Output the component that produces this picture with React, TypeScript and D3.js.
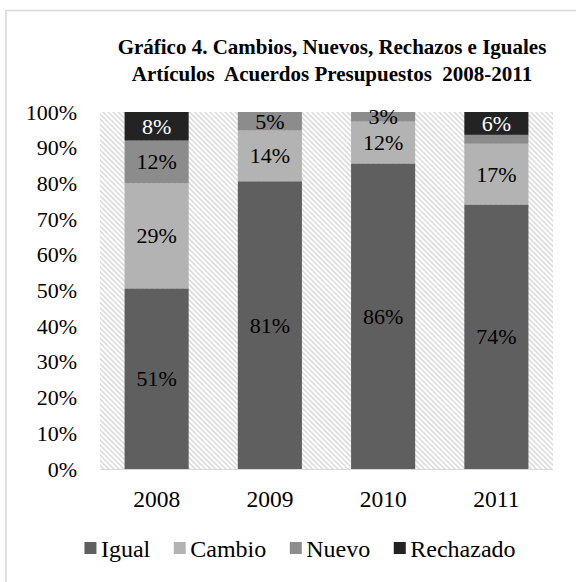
import React, { useEffect, useRef } from "react";
import * as d3 from "d3";

const years = ["2008", "2009", "2010", "2011"];
const seriesNames = ["Igual", "Cambio", "Nuevo", "Rechazado"];
const igual = [50.6, 80.6, 85.6, 74.1];
const cambio = [29.4, 14.2, 11.7, 17.0];
const nuevo = [12.0, 5.2, 2.7, 2.5];
const rechazado = [8.0, 0, 0, 6.4];
const yTicks = [0, 10, 20, 30, 40, 50, 60, 70, 80, 90, 100];
const titleLines = [
  "Gráfico 4. Cambios, Nuevos, Rechazos e Iguales",
  "Artículos  Acuerdos Presupuestos  2008-2011",
];

const colors = ["#5f5f5f", "#b3b3b3", "#8c8c8c", "#232323"];
const labelColors = ["#000", "#000", "#000", "#fff"];
const FONT = "'Liberation Serif', 'Times New Roman', serif";

export default function App() {
  const ref = useRef<SVGSVGElement>(null);

  useEffect(() => {
    const svg = d3.select(ref.current);
    svg.selectAll("*").remove();

    const W = 576, H = 582;
    const left = 100, right = 553, top = 112, bottom = 469;

    const defs = svg.append("defs");
    const pat = defs
      .append("pattern")
      .attr("id", "hatch")
      .attr("patternUnits", "userSpaceOnUse")
      .attr("width", 3.6)
      .attr("height", 3.6)
      .attr("patternTransform", "rotate(-45)");
    pat.append("rect").attr("width", 3.6).attr("height", 3.6).attr("fill", "#fff");
    pat.append("line").attr("x1", 0.8).attr("y1", 0).attr("x2", 0.8).attr("y2", 3.6)
      .attr("stroke", "#d6d6d6").attr("stroke-width", 1.4);

    svg.append("rect").attr("width", W).attr("height", H).attr("fill", "#fff");
    svg.append("rect")
      .attr("x", 6).attr("y", 10.5).attr("width", 700).attr("height", 700)
      .attr("fill", "#fff").attr("stroke", "#d9d9d9").attr("stroke-width", 1.5);

    // title
    titleLines.forEach((t, i) => {
      svg.append("text")
        .attr("x", 332).attr("y", 54 + i * 26.5)
        .attr("text-anchor", "middle")
        .attr("font-family", FONT).attr("font-weight", "bold")
        .attr("font-size", 21).attr("fill", "#000")
        .style("white-space", "pre")
        .text(t);
    });

    const x = d3.scaleBand<string>().domain(years).range([left, right])
      .paddingInner(0.434).paddingOuter(0.217);
    const y = d3.scaleLinear().domain([0, 100]).range([bottom, top]);

    svg.append("rect").attr("x", left).attr("y", top)
      .attr("width", right - left).attr("height", bottom - top)
      .attr("fill", "url(#hatch)");

    const rows = years.map((yr, i) => ({
      year: yr, Igual: igual[i], Cambio: cambio[i], Nuevo: nuevo[i], Rechazado: rechazado[i],
    }));
    const stacked = d3.stack<any>().keys(seriesNames)(rows);

    stacked.forEach((layer, si) => {
      const g = svg.append("g");
      layer.forEach((d: any) => {
        const h = y(d[0]) - y(d[1]);
        if (h <= 0) return;
        g.append("rect")
          .attr("x", x(d.data.year)!)
          .attr("y", y(d[1]))
          .attr("width", x.bandwidth())
          .attr("height", h)
          .attr("fill", colors[si]);
      });
    });
    stacked.forEach((layer, si) => {
      layer.forEach((d: any) => {
        const v = d[1] - d[0];
        if (v < 2.6) return;
        svg.append("text")
          .attr("x", x(d.data.year)! + x.bandwidth() / 2)
          .attr("y", y((d[0] + d[1]) / 2))
          .attr("text-anchor", "middle")
          .attr("dominant-baseline", "central")
          .attr("font-family", FONT).attr("font-size", 22)
          .attr("fill", labelColors[si])
          .text(`${Math.round(v)}%`);
      });
    });

    // axis line
    svg.append("line").attr("x1", left).attr("x2", right)
      .attr("y1", bottom + 0.5).attr("y2", bottom + 0.5)
      .attr("stroke", "#d9d9d9").attr("stroke-width", 1);

    // y tick labels
    yTicks.forEach((t) => {
      svg.append("text")
        .attr("x", 77).attr("y", y(t))
        .attr("text-anchor", "end").attr("dominant-baseline", "central")
        .attr("font-family", FONT).attr("font-size", 22).attr("fill", "#000")
        .text(`${t}%`);
    });

    // x labels
    years.forEach((yr) => {
      svg.append("text")
        .attr("x", x(yr)! + x.bandwidth() / 2).attr("y", 507)
        .attr("text-anchor", "middle")
        .attr("font-family", FONT).attr("font-size", 23.5).attr("fill", "#000")
        .text(yr);
    });

    // legend
    const lg = svg.append("g");
    let cx = 0;
    seriesNames.forEach((name, i) => {
      lg.append("rect").attr("x", cx).attr("y", 542).attr("width", 12).attr("height", 12)
        .attr("fill", colors[i]);
      const t = lg.append("text").attr("x", cx + 16.5).attr("y", 556.5)
        .attr("font-family", FONT).attr("font-size", 24).attr("fill", "#000")
        .text(name);
      const w = (t.node() as SVGTextElement).getComputedTextLength();
      cx += 16.5 + w + (i < seriesNames.length - 1 ? 23.5 : 0);
    });
    const legendW = cx;
    lg.attr("transform", `translate(${300 - legendW / 2},0)`);
  }, []);

  return (
    <svg
      ref={ref}
      width={576}
      height={582}
      style={{ position: "absolute", left: 0, top: 0, display: "block" }}
    />
  );
}
